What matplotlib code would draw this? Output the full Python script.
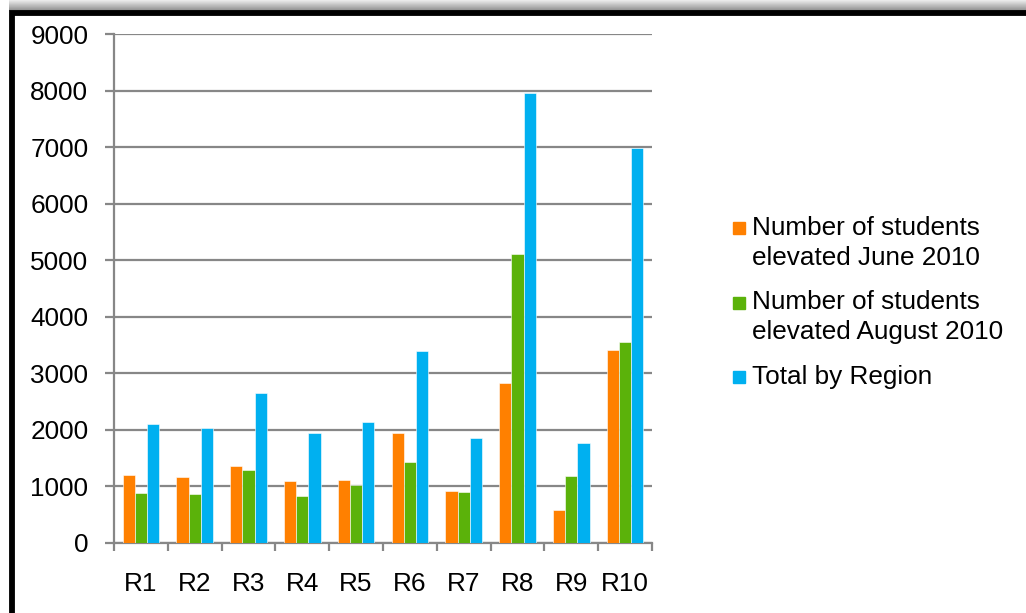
import numpy as np
import matplotlib
matplotlib.use("Agg")
import matplotlib.pyplot as plt
from matplotlib.patches import Rectangle

plt.rcParams['font.family'] = ['Liberation Sans', 'DejaVu Sans']

regions = ["R1", "R2", "R3", "R4", "R5", "R6", "R7", "R8", "R9", "R10"]
june_2010 = [1200, 1170, 1370, 1100, 1110, 1940, 920, 2830, 580, 3420]
august_2010 = [880, 860, 1290, 830, 1020, 1430, 910, 5110, 1180, 3550]
total_by_region = [2100, 2030, 2660, 1950, 2140, 3390, 1850, 7950, 1770, 6990]

series_labels = ["Number of students\nelevated June 2010",
                 "Number of students\nelevated August 2010",
                 "Total by Region"]
series_colors = ["#FF8000", "#5BB20A", "#00B0F0"]
y_ticks = list(range(0, 9001, 1000))

W, H = 1026, 613
FS = 18.8
fig = plt.figure(figsize=(W / 100, H / 100), dpi=100)
fig.patch.set_facecolor("white")

# soft shadow strip above the frame
shadow = fig.add_axes([9 / W, 1 - 11 / H, 1 - 9 / W, 11 / H])
grad = np.linspace(0.93, 0.55, 30).reshape(-1, 1)
shadow.imshow(grad, cmap="gray", vmin=0, vmax=1, aspect="auto",
              extent=[0, 1, 0, 1], interpolation="bilinear")
shadow.set_axis_off()

# black frame (left and top edges visible)
fig.add_artist(Rectangle((12 / W, -0.1), 1.2, 1 - 13.5 / H + 0.1,
                         transform=fig.transFigure, fill=False,
                         edgecolor="black", linewidth=4.2, zorder=5))

ax = fig.add_axes([114 / W, 1 - 543 / H, (652 - 114) / W, (543 - 34) / H])

x = np.arange(len(regions))
bw = 0.228
for i, (vals, lab, col) in enumerate(zip([june_2010, august_2010, total_by_region],
                                         series_labels, series_colors)):
    ax.bar(x + (i - 1) * bw, vals, width=bw, color=col, label=lab,
           edgecolor="white", linewidth=0.4, zorder=3)

ax.set_xlim(-0.5, len(regions) - 0.5)
ax.set_ylim(0, 9000)
ax.set_yticks(y_ticks)
ax.set_yticklabels([str(v) for v in y_ticks], fontsize=FS)
ax.yaxis.grid(True, color="#878787", linewidth=1.6, zorder=0)
ax.set_axisbelow(True)

ax.set_xticks(x)
ax.set_xticklabels(regions, fontsize=FS)
ax.tick_params(axis="x", length=0, pad=21)
ax.set_xticks(np.arange(-0.5, len(regions)), minor=True)
ax.tick_params(axis="x", which="minor", length=6, width=1.6, color="#878787")
ax.tick_params(axis="y", length=6.5, width=1.6, color="#878787", pad=12)

for side in ["top", "right"]:
    ax.spines[side].set_visible(False)
for side in ["left", "bottom"]:
    ax.spines[side].set_color("#878787")
    ax.spines[side].set_linewidth(1.6)

# legend: square key aligned with the first line of each label
key_x, text_x = 733, 752
first_line_y, entry_step, line_step, key_size = 228, 74.5, 30, 12
for i, (lab, col) in enumerate(zip(series_labels, series_colors)):
    yc = first_line_y + i * entry_step
    fig.add_artist(Rectangle((key_x / W, 1 - (yc + key_size / 2) / H),
                             key_size / W, key_size / H,
                             transform=fig.transFigure, color=col))
    for k, line in enumerate(lab.split("\n")):
        fig.text(text_x / W, 1 - (yc + k * line_step) / H, line,
                 fontsize=FS, va="center", ha="left")

fig.savefig("out.png", dpi=100)
